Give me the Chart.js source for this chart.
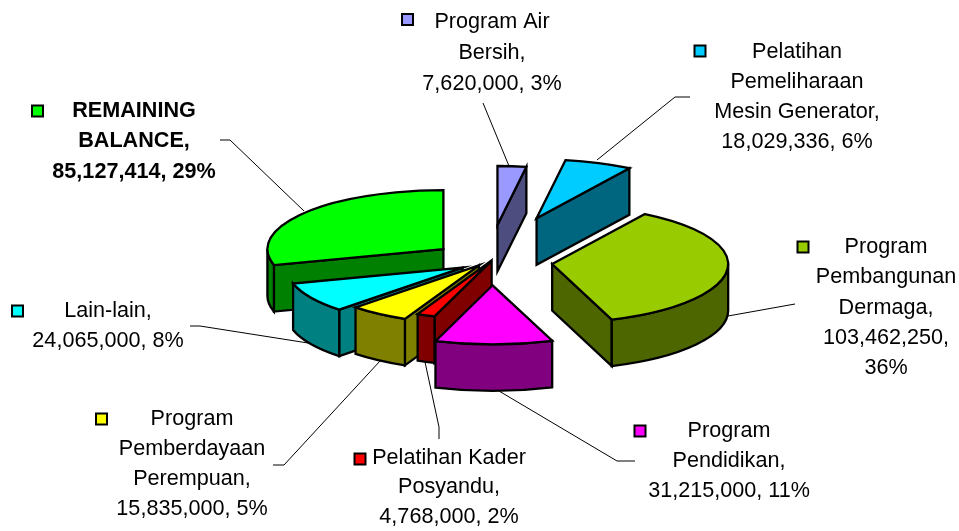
<!DOCTYPE html>
<html>
<head>
<meta charset="utf-8">
<style>html,body{margin:0;padding:0;background:#fff}canvas{display:block}</style>
<script src="https://cdn.jsdelivr.net/npm/chart.js@4"></script>
</head>
<body>
<canvas id="c" width="959" height="531"></canvas>
<script>
const categories = ["Program Air Bersih","Pelatihan Pemeliharaan Mesin Generator","Program Pembangunan Dermaga","Program Pendidikan","Pelatihan Kader Posyandu","Program Pemberdayaan Perempuan","Lain-lain","REMAINING BALANCE"];
const values = [7620000,18029336,103462250,31215000,4768000,15835000,24065000,85127414];
const topColors = ["#9999ff","#00ccff","#99cc00","#ff00ff","#ff0000","#ffff00","#00ffff","#00ff00"];
const wallColors = ["#4d4d80","#006680","#4d6600","#800080","#800000","#808000","#008080","#008000"];
const explode = [99,125,60,80,5,23,33,61];
const nudgeX = [-2.7,0.5,0.5,0,1.5,0,-1,0];
const nudgeY = [-1,-1.5,3,-0.5,0,0,3,2.5];
const paintOrder = [0,1,2,7,6,5,4,3];
const labelLines = [
  ["Program Air","Bersih,","7,620,000, 3%"],
  ["Pelatihan","Pemeliharaan","Mesin Generator,","18,029,336, 6%"],
  ["Program","Pembangunan","Dermaga,","103,462,250,","36%"],
  ["Program","Pendidikan,","31,215,000, 11%"],
  ["Pelatihan Kader","Posyandu,","4,768,000, 2%"],
  ["Program","Pemberdayaan","Perempuan,","15,835,000, 5%"],
  ["Lain-lain,","24,065,000, 8%"],
  ["REMAINING","BALANCE,","85,127,414, 29%"]
];
const labelCenterX = [492,797,886,729,449,192,108,134];
const labelFirstY = [22,52,247,431,458,419,311,111];
const labelStep = [31,30,30.3,30,29.5,30,30,30.5];
const keyPos = [[407.5,19.5],[700,51],[803,247],[640,431],[360,459],[101.5,419],[17.5,311],[37.5,111]];
const leaders = [
  [[483,103],[509,166]],
  [[690,97],[675,97],[597,160]],
  [[795,304],[728,316]],
  [[635,461],[617,461],[499,391]],
  [[439,439],[439,427],[425,362]],
  [[273,465],[284,465],[380,361]],
  [[190,326],[200,326],[308,343]],
  [[220,140],[230,140],[304,211]]
];
const tilt = 0.335, depth = 46.5, fontSize = 21.6;

const pie3d = {
  id:'pie3d',
  beforeDatasetDraw(){ return false; },
  afterDatasetsDraw(chart){
    const ctx = chart.ctx, arcs = chart.getDatasetMeta(0).data;
    ctx.save();
    ctx.lineWidth = 1; ctx.strokeStyle = '#000';
    leaders.forEach(pts=>{
      ctx.beginPath();
      pts.forEach((p,i)=> i?ctx.lineTo(p[0],p[1]):ctx.moveTo(p[0],p[1]));
      ctx.stroke();
    });
    ctx.lineWidth = 2.3; ctx.lineJoin = 'miter';
    paintOrder.forEach(i=>{
      const a = arcs[i], {x,y,startAngle:a0,endAngle:a1,outerRadius:r} = a;
      const mid = (a0+a1)/2;
      const px = x+Math.cos(mid)*explode[i]+nudgeX[i], py = y+Math.sin(mid)*explode[i]*tilt+nudgeY[i];
      const pt = (t,d=0)=>[px+r*Math.cos(t), py+r*tilt*Math.sin(t)+d];
      const paint = ()=>{ctx.fillStyle=wallColors[i];ctx.fill();ctx.strokeStyle='#000';ctx.stroke();};
      const radialWall = t=>{
        const q=pt(t), q2=pt(t,depth);
        ctx.beginPath();ctx.moveTo(px,py);ctx.lineTo(q[0],q[1]);ctx.lineTo(q2[0],q2[1]);ctx.lineTo(px,py+depth);ctx.closePath();paint();
      };
      if(Math.cos(a0)<0) radialWall(a0);
      if(Math.cos(a1)>0) radialWall(a1);
      const lo=Math.max(a0,0), hi=Math.min(a1,Math.PI);
      if(lo<hi){
        ctx.beginPath();
        ctx.ellipse(px,py,r,r*tilt,0,lo,hi);
        ctx.ellipse(px,py+depth,r,r*tilt,0,hi,lo,true);
        ctx.closePath();paint();
      }
      ctx.save();
      ctx.translate(px,py);ctx.scale(1,tilt);ctx.translate(-x,-y);
      a.draw(ctx);
      ctx.restore();
      ctx.beginPath();ctx.moveTo(px,py);
      ctx.ellipse(px,py,r,r*tilt,0,a0,a1);
      ctx.closePath();ctx.strokeStyle='#000';ctx.stroke();
    });
    ctx.restore();
    ctx.save();
    ctx.textAlign='center';ctx.textBaseline='middle';ctx.fillStyle='#000';
    labelLines.forEach((lines,i)=>{
      ctx.font=(i===7?'bold ':'')+fontSize+'px "Liberation Sans", Arial, sans-serif';
      lines.forEach((s,j)=>ctx.fillText(s,labelCenterX[i],labelFirstY[i]+j*labelStep[i]));
      ctx.fillStyle=topColors[i];ctx.strokeStyle='#000';ctx.lineWidth=2;
      ctx.fillRect(keyPos[i][0]-5.5,keyPos[i][1]-5.5,11,11);
      ctx.strokeRect(keyPos[i][0]-5.5,keyPos[i][1]-5.5,11,11);
      ctx.fillStyle='#000';
    });
    ctx.restore();
  }
};

new Chart(document.getElementById('c'),{
  type:'pie',
  data:{labels:categories,datasets:[{data:values,backgroundColor:topColors,borderWidth:0}]},
  options:{
    responsive:false,animation:false,radius:176,
    layout:{padding:{left:25,bottom:13}},
    plugins:{legend:{display:false},tooltip:{enabled:false},title:{display:false}}
  },
  plugins:[pie3d]
});
</script>
</body>
</html>
